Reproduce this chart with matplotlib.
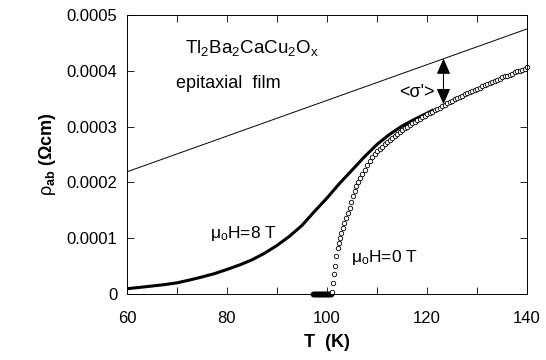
import matplotlib
matplotlib.use("Agg")
import matplotlib.pyplot as plt

# ── Data ──────────────────────────────────────────────────────
# mu0 H = 0 T : open circles (resistivity in Ohm cm)
T_zero = [97.2, 97.4, 97.6, 97.8, 98.0, 98.2, 98.4, 98.6, 98.8, 99.0,
          99.2, 99.4, 99.6, 99.8, 100.0, 100.2, 100.4, 100.6, 100.8]
rho_zero = [0.0] * len(T_zero)

T_0T = [100.9, 101.1, 101.4, 101.5, 101.8, 102.1, 102.4, 102.6, 102.8, 103.1,
        103.4, 103.8, 104.1, 104.5, 104.8, 105.1, 105.5, 105.8, 106.2, 106.5,
        107.0, 107.5, 108.0, 108.5, 109.0, 109.5, 110.0, 110.5, 111.0, 111.5,
        112.0, 112.5, 113.0, 113.5, 114.0, 114.5, 115.0, 115.5, 116.0, 116.5,
        117.0, 117.5, 118.0, 118.5, 119.0, 119.5, 120.0, 120.5, 121.0, 121.5,
        122.0, 122.5, 123.0, 123.5, 124.0, 124.5, 125.0, 125.5, 126.0, 126.5,
        127.0, 127.5, 128.0, 128.5, 129.0, 129.5, 130.0, 130.5, 131.0, 131.5,
        132.0, 132.5, 133.0, 133.5, 134.0, 134.5, 135.0, 135.5, 136.0, 136.5,
        137.0, 137.5, 138.0, 138.5, 139.0, 139.5, 140.0]
rho_0T = [0.000004, 0.000020, 0.000035, 0.000050, 0.000068, 0.000082, 0.000092, 0.000100, 0.000110, 0.000119,
          0.000128, 0.000137, 0.000146, 0.000155, 0.000165, 0.000175, 0.000185, 0.000193, 0.000201, 0.000208,
          0.000215, 0.000223, 0.000231, 0.000238, 0.000245, 0.000251, 0.000256, 0.000260, 0.000264, 0.000268,
          0.000272, 0.000276, 0.000280, 0.000284, 0.000287, 0.000291, 0.000294, 0.000297, 0.000300, 0.000303,
          0.000306, 0.000309, 0.000312, 0.000314, 0.000317, 0.000319, 0.000322, 0.000324, 0.000327, 0.000329,
          0.000332, 0.000334, 0.000337, 0.000339, 0.000342, 0.000344, 0.000346, 0.000349, 0.000351, 0.000353,
          0.000355, 0.000358, 0.000360, 0.000362, 0.000364, 0.000366, 0.000368, 0.000370, 0.000372, 0.000374,
          0.000376, 0.000378, 0.000380, 0.000382, 0.000384, 0.000386, 0.000388, 0.000390, 0.000391, 0.000393,
          0.000395, 0.000397, 0.000399, 0.000400, 0.000402, 0.000404, 0.000406]

# mu0 H = 8 T : solid curve
T_8T = [60, 62.5, 65, 67.5, 70, 72.5, 75, 77.5, 80, 82.5, 85, 87.5, 90,
        92.5, 95, 97.5, 100, 102.5, 105, 107.5, 110, 112.5, 115, 117.5, 120, 121.3]
rho_8T = [0.0000095, 0.0000118, 0.0000143, 0.0000168, 0.0000200, 0.0000250,
          0.0000305, 0.0000365, 0.0000440, 0.0000520, 0.0000612, 0.0000730,
          0.0000870, 0.0001035, 0.0001230, 0.0001480, 0.0001720, 0.0001980,
          0.0002220, 0.0002460, 0.0002680, 0.0002860, 0.0003010, 0.0003130,
          0.0003240, 0.0003300]

# normal-state extrapolation (straight line)
T_line = [60, 140]
rho_line = [0.000219, 0.000475]

# fluctuation conductivity arrow
T_arrow = 123.3
rho_arrow_bottom = 0.000340
rho_arrow_top = 0.000422

x_ticks = [60, 80, 100, 120, 140]
x_minor = [70, 90, 110, 130]
y_ticks = [0, 0.0001, 0.0002, 0.0003, 0.0004, 0.0005]
y_tick_labels = ["0", "0.0001", "0.0002", "0.0003", "0.0004", "0.0005"]

# ── Style ─────────────────────────────────────────────────────
plt.rcParams["font.family"] = ["Liberation Sans", "DejaVu Sans"]
plt.rcParams["mathtext.fontset"] = "custom"
plt.rcParams["mathtext.rm"] = "Liberation Sans"
plt.rcParams["mathtext.it"] = "Liberation Sans"
plt.rcParams["mathtext.bf"] = "Liberation Sans:bold"

fig = plt.figure(figsize=(5.46, 3.60), dpi=100)
ax = fig.add_axes([127 / 546, 1 - 294 / 360, 400 / 546, 279 / 360])

ax.plot(T_line, rho_line, color="black", lw=0.7)
ax.plot(T_8T, rho_8T, color="black", lw=2.2, solid_capstyle="butt")
ax.plot(T_zero, rho_zero, "o", ms=3.2, mfc="none", mec="black", mew=0.9, clip_on=False)
ax.plot(T_0T, rho_0T, "o", ms=3.2, mfc="white", mec="black", mew=0.6, clip_on=False)

ax.annotate("", xy=(T_arrow, rho_arrow_top), xytext=(T_arrow, rho_arrow_bottom),
            arrowprops=dict(arrowstyle="<|-|>,head_length=0.8,head_width=0.35",
                            mutation_scale=12, color="black", lw=0.8,
                            shrinkA=0, shrinkB=0))

ax.text(118.0, 0.000362, "<σ'>", fontsize=13, ha="center", va="center")
ax.text(85.0, 0.000441, r"Tl$_2$Ba$_2$CaCu$_2$O$_x$", fontsize=13.5, ha="center", va="center")
ax.text(80.2, 0.000377, "epitaxial  film", fontsize=13, ha="center", va="center")
ax.text(83.2, 0.000108, r"μ$_\mathrm{o}$H=8 T", fontsize=12.5, ha="center", va="center")
ax.text(111.5, 0.000065, r"μ$_\mathrm{o}$H=0 T", fontsize=12.5, ha="center", va="center")

ax.set_xlim(60, 140)
ax.set_ylim(0, 0.0005)
ax.set_xticks(x_ticks)
ax.set_xticks(x_minor, minor=True)
ax.set_yticks(y_ticks)
ax.set_yticklabels(y_tick_labels)

ax.tick_params(which="both", direction="in", top=True, right=True, length=5, width=0.6)
ax.tick_params(axis="x", which="major", labelsize=12, pad=12)
ax.tick_params(axis="y", which="major", labelsize=12, pad=7)
for sp in ax.spines.values():
    sp.set_linewidth(0.7)

ax.set_xlabel("T  (K)", fontsize=13, fontweight="bold", labelpad=6)
ax.set_ylabel(r"$\rho_{\mathbf{ab}}$ (Ωcm)", fontsize=13, fontweight="bold", labelpad=6)

plt.savefig("out.png", dpi=100)
